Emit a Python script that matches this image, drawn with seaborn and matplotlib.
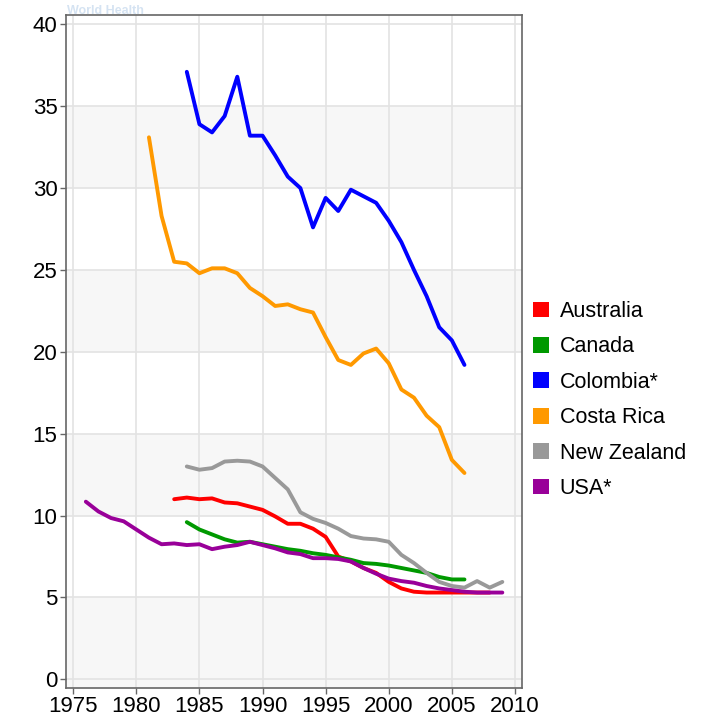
import pandas as pd
import matplotlib
matplotlib.use("Agg")
import matplotlib.pyplot as plt
from matplotlib.patches import Patch
import seaborn as sns

# values
years_aus = list(range(1983, 2009))
aus = [11.0, 11.1, 11.0, 11.05, 10.8, 10.75, 10.55, 10.35, 9.95, 9.5, 9.5, 9.2, 8.7,
       7.5, 7.2, 6.8, 6.5, 5.95, 5.55, 5.35, 5.3, 5.3, 5.3, 5.3, 5.3, 5.3]

years_can = list(range(1984, 2007))
can = [9.6, 9.15, 8.85, 8.55, 8.35, 8.4, 8.25, 8.1, 7.95, 7.85, 7.7, 7.6, 7.45,
       7.3, 7.1, 7.05, 6.95, 6.8, 6.65, 6.5, 6.25, 6.1, 6.1]

years_col = list(range(1984, 2007))
col = [37.1, 33.9, 33.4, 34.4, 36.8, 33.2, 33.2, 32.0, 30.7, 30.0, 27.6, 29.4, 28.6,
       29.9, 29.5, 29.1, 28.0, 26.7, 25.0, 23.4, 21.5, 20.7, 19.2]

years_cri = list(range(1981, 2007))
cri = [33.1, 28.3, 25.5, 25.4, 24.8, 25.1, 25.1, 24.8, 23.9, 23.4, 22.8, 22.9, 22.6,
       22.4, 20.9, 19.5, 19.2, 19.9, 20.2, 19.3, 17.7, 17.2, 16.1, 15.4, 13.4, 12.6]

years_nzl = list(range(1984, 2010))
nzl = [13.0, 12.8, 12.9, 13.3, 13.35, 13.3, 13.0, 12.3, 11.6, 10.2, 9.8, 9.55, 9.2,
       8.75, 8.6, 8.55, 8.4, 7.6, 7.1, 6.5, 5.95, 5.7, 5.6, 6.0, 5.6, 5.95]

years_usa = list(range(1976, 2010))
usa = [10.85, 10.25, 9.85, 9.65, 9.15, 8.65, 8.25, 8.3, 8.2, 8.25, 7.95, 8.1, 8.2,
       8.4, 8.2, 8.0, 7.75, 7.65, 7.4, 7.4, 7.35, 7.2, 6.8, 6.45, 6.15, 6.0, 5.9,
       5.7, 5.55, 5.45, 5.35, 5.3, 5.3, 5.3]

countries = ["Australia", "Canada", "Colombia*", "Costa Rica", "New Zealand", "USA*"]
colors = ["#ff0000", "#009900", "#0000ff", "#ff9900", "#999999", "#990099"]

frames = []
for name, yrs, vals in zip(countries,
                           [years_aus, years_can, years_col, years_cri, years_nzl, years_usa],
                           [aus, can, col, cri, nzl, usa]):
    frames.append(pd.DataFrame({"year": yrs, "rate": vals, "country": name}))
df = pd.concat(frames, ignore_index=True)

sns.set_style("white")
plt.rcParams['font.family'] = ['Liberation Sans', 'DejaVu Sans']
plt.rcParams['text.color'] = 'black'

fig = plt.figure(figsize=(7.01, 7.24), dpi=100)
ax = fig.add_axes([0.094, 0.0497, 0.6505, 0.9296])

# alternating background bands
for lo in [-1, 10, 20, 30]:
    ax.axhspan(lo, lo + 5 if lo >= 0 else 5, color="#f7f7f7", zorder=0, lw=0)

ax.set_axisbelow(True)
ax.grid(True, color="#e3e3e3", lw=1.2)

sns.lineplot(data=df, x="year", y="rate", hue="country", palette=dict(zip(countries, colors)),
             lw=2.8, ax=ax, legend=False, estimator=None, sort=True)

ax.set_xlim(1974.42, 2010.55)
ax.set_ylim(-0.53, 40.57)
ax.set_xticks(range(1975, 2011, 5))
ax.set_yticks(range(0, 41, 5))
ax.set_xlabel("")
ax.set_ylabel("")
ax.tick_params(axis="both", labelsize=16, length=4, width=1, color="#666666",
               labelcolor="black", direction="out", left=True, bottom=True, pad=2)
for s in ax.spines.values():
    s.set_color("#666666")
    s.set_linewidth(1.2)

handles = [Patch(facecolor=c, edgecolor="none", label=n) for n, c in zip(countries, colors)]
fig.legend(handles=handles, loc="center left", bbox_to_anchor=(0.760, 0.4475),
           frameon=False, fontsize=15.5, handlelength=0.75, handleheight=0.75,
           handletextpad=0.5, labelspacing=0.67, borderaxespad=0, borderpad=0,
           labelcolor="black")

fig.text(0.095, 0.985, "World Health", color="#d5e3f2", fontsize=9, fontweight="bold",
         va="center", ha="left", zorder=-1)

fig.savefig("out.png", dpi=100)
